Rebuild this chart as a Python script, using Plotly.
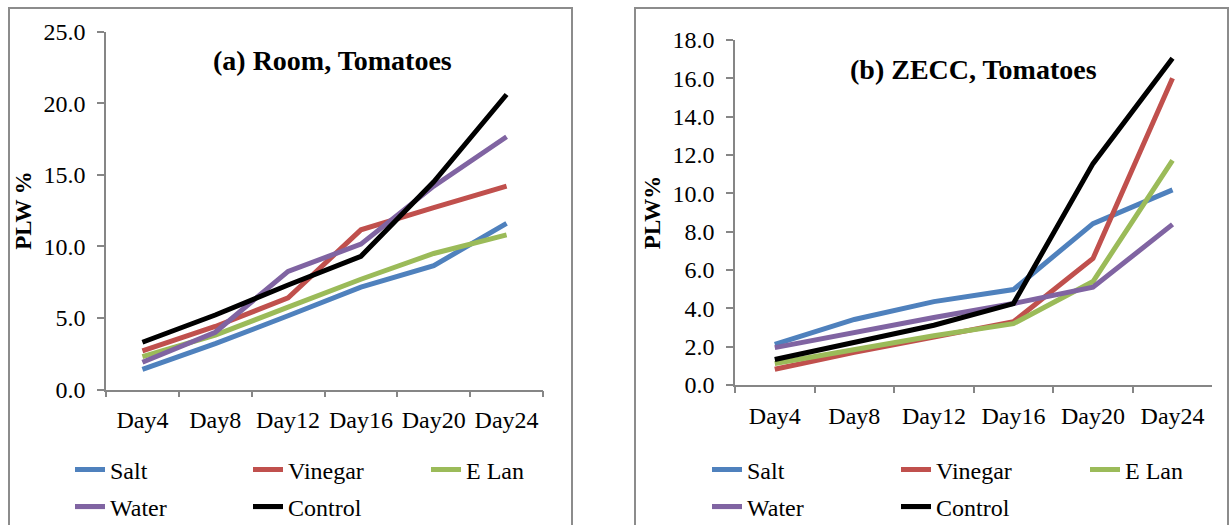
import plotly.graph_objects as go

days = ["Day4", "Day8", "Day12", "Day16", "Day20", "Day24"]
series_names = ["Salt", "Vinegar", "E Lan", "Water", "Control"]
colors = ["#4F81BD", "#C0504D", "#9BBB59", "#8064A2", "#000000"]

# (a) Room, Tomatoes
room_salt = [1.4, 3.2, 5.15, 7.15, 8.65, 11.6]
room_vinegar = [2.7, 4.4, 6.4, 11.15, 12.7, 14.2]
room_elan = [2.3, 3.8, 5.75, 7.7, 9.5, 10.8]
room_water = [1.9, 4.0, 8.25, 10.15, 14.2, 17.65]
room_control = [3.3, 5.2, 7.3, 9.3, 14.5, 20.6]

# (b) ZECC, Tomatoes
zecc_salt = [2.12, 3.42, 4.35, 4.98, 8.42, 10.18]
zecc_vinegar = [0.82, 1.7, 2.5, 3.3, 6.6, 16.0]
zecc_elan = [1.12, 1.83, 2.57, 3.2, 5.4, 11.72]
zecc_water = [1.95, 2.75, 3.52, 4.25, 5.1, 8.38]
zecc_control = [1.33, 2.25, 3.12, 4.25, 11.55, 17.05]

room = [room_salt, room_vinegar, room_elan, room_water, room_control]
zecc = [zecc_salt, zecc_vinegar, zecc_elan, zecc_water, zecc_control]

FONT = "'Liberation Serif', 'Times New Roman', serif"
W, H = 1231, 525

fig = go.Figure()
legend_row = ["legend", "legend", "legend", "legend3", "legend3"]
legend_row2 = ["legend2", "legend2", "legend2", "legend4", "legend4"]
for i, name in enumerate(series_names):
    fig.add_trace(go.Scatter(x=days, y=room[i], mode="lines", name=name,
                             line=dict(color=colors[i], width=5),
                             xaxis="x", yaxis="y", legend=legend_row[i]))
for i, name in enumerate(series_names):
    fig.add_trace(go.Scatter(x=days, y=zecc[i], mode="lines", name=name,
                             line=dict(color=colors[i], width=5),
                             xaxis="x2", yaxis="y2", legend=legend_row2[i]))

axcol = "#868686"
xcommon = dict(type="category", range=[-0.5, 5.5], showline=True, linecolor=axcol,
               linewidth=1.5, ticks="outside", ticklen=6, tickcolor=axcol, tickwidth=1.5,
               tickson="boundaries", showgrid=False, zeroline=False, tickangle=0,
               automargin=False, ticklabelstandoff=8,
               tickfont=dict(family=FONT, size=24, color="#000"), fixedrange=True)
ycommon = dict(showline=True, linecolor=axcol, linewidth=1.5, ticks="outside",
               ticklen=7, tickcolor=axcol, tickwidth=1.5, showgrid=False, zeroline=False,
               tickformat=".1f", tickfont=dict(family=FONT, size=24, color="#000"),
               automargin=False, ticklabelstandoff=7)

legcommon = dict(orientation="h", font=dict(family=FONT, size=24, color="#000"),
                 bgcolor="rgba(0,0,0,0)", yanchor="middle", xanchor="left",
                 entrywidthmode="pixels", traceorder="normal")

fig.update_layout(
    width=W, height=H, margin=dict(l=0, r=0, t=0, b=0, pad=0, autoexpand=False),
    paper_bgcolor="white", plot_bgcolor="white", showlegend=True,
    xaxis=dict(xcommon, domain=[106 / W, 543 / W], anchor="y"),
    yaxis=dict(ycommon, domain=[(H - 389.5) / H, (H - 31.5) / H], range=[0, 25], dtick=5,
               anchor="x",
               title=dict(text="<b>PLW %</b>", font=dict(family=FONT, size=23, color="#000"),
                          standoff=5)),
    xaxis2=dict(xcommon, domain=[735 / W, 1212.3 / W], anchor="y2"),
    yaxis2=dict(ycommon, domain=[(H - 385) / H, (H - 40) / H], range=[0, 18], dtick=2,
                anchor="x2",
                title=dict(text="<b>PLW%</b>", font=dict(family=FONT, size=23, color="#000"),
                           standoff=5)),
    legend=dict(legcommon, x=70 / W, y=(H - 470) / H, entrywidth=133),
    legend3=dict(legcommon, x=70 / W, y=(H - 507) / H, entrywidth=133),
    legend2=dict(legcommon, x=707 / W, y=(H - 470) / H, entrywidth=144),
    legend4=dict(legcommon, x=707 / W, y=(H - 507) / H, entrywidth=144),
    annotations=[
        dict(text="<b>(a) Room, Tomatoes</b>", x=332.5 / W, y=(H - 60) / H, xref="paper",
             yref="paper", showarrow=False, xanchor="center", yanchor="middle",
             font=dict(family=FONT, size=28, color="#000")),
        dict(text="<b>(b) ZECC, Tomatoes</b>", x=973 / W, y=(H - 69) / H, xref="paper",
             yref="paper", showarrow=False, xanchor="center", yanchor="middle",
             font=dict(family=FONT, size=28, color="#000")),
    ],
    shapes=[
        dict(type="rect", xref="paper", yref="paper", x0=9 / W, x1=572 / W, y0=-0.05,
             y1=(H - 8) / H, line=dict(color="#8C8C8C", width=2), layer="below"),
        dict(type="rect", xref="paper", yref="paper", x0=635 / W, x1=1228 / W, y0=-0.05,
             y1=(H - 8) / H, line=dict(color="#8C8C8C", width=2), layer="below"),
    ],
)

fig.write_html("out.html", config={"displayModeBar": False},
               post_script="document.body.style.margin='0';document.body.style.padding='0';")
